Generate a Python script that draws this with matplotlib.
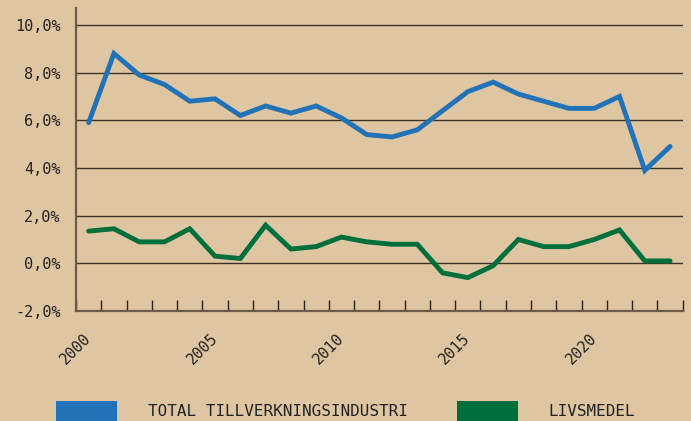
import numpy as np
import matplotlib
matplotlib.use("Agg")
import matplotlib.pyplot as plt
from matplotlib.patches import Rectangle

years = list(range(2000, 2024))
total = [5.9, 8.8, 7.9, 7.5, 6.8, 6.9, 6.2, 6.6, 6.3, 6.6, 6.1, 5.4,
         5.3, 5.6, 6.4, 7.2, 7.6, 7.1, 6.8, 6.5, 6.5, 7.0, 3.9, 4.9]
food = [1.35, 1.45, 0.9, 0.9, 1.45, 0.3, 0.2, 1.6, 0.6, 0.7, 1.1, 0.9,
        0.8, 0.8, -0.4, -0.6, -0.1, 1.0, 0.7, 0.7, 1.0, 1.4, 0.1, 0.1]
series_names = ["TOTAL TILLVERKNINGSINDUSTRI", "LIVSMEDEL"]
yticks = [-2, 0, 2, 4, 6, 8, 10]

bg = "#dfc6a2"
blue = "#2272b7"
green = "#006f3c"
font = "DejaVu Sans Mono"

fig = plt.figure(figsize=(6.91, 4.21), dpi=100, facecolor=bg)
ax = fig.add_axes([0.110, 0.2613, 0.878, 0.7197])
ax.set_facecolor(bg)

x = np.arange(len(years))
ax.plot(x, total, color=blue, lw=3.5, solid_capstyle="round", solid_joinstyle="miter", zorder=3)
ax.plot(x, food, color=green, lw=3.5, solid_capstyle="round", solid_joinstyle="miter", zorder=3)

ax.set_xlim(-0.5, len(years) - 0.5)
ax.set_ylim(-2, 10.71)

# y axis
ax.set_yticks(yticks)
ax.set_yticklabels([f"{v:.1f}%".replace(".", ",") for v in yticks],
                   fontfamily=font, fontsize=11, color="#222222")
ax.tick_params(axis="y", length=0, pad=11)
for v in yticks:
    ax.axhline(v, color="#3b3226", lw=1.0, zorder=1)

# x axis: labels every 5 years, ticks at category boundaries
major = [i for i, y in enumerate(years) if y % 5 == 0]
ax.set_xticks(major)
ax.set_xticklabels([str(years[i]) for i in major], fontfamily=font, fontsize=11,
                   color="#222222", rotation=45, ha="right", va="center",
                   rotation_mode="anchor")
ax.tick_params(axis="x", which="major", length=0, pad=18)
ax.set_xticks(np.arange(-0.5, len(years)), minor=True)
ax.tick_params(axis="x", which="minor", direction="in", length=8, width=1.0,
               color="#2a2218")

for s in ["top", "right"]:
    ax.spines[s].set_visible(False)
ax.spines["left"].set_color("#6b5b47")
ax.spines["left"].set_linewidth(1.6)
ax.spines["bottom"].set_color("#6b5b47")
ax.spines["bottom"].set_linewidth(1.6)

# legend
fig.add_artist(Rectangle((56 / 691, 0), 61 / 691, 20 / 421, transform=fig.transFigure,
                         color=blue, lw=0))
fig.text(148 / 691, 9 / 421, series_names[0], fontfamily=font, fontsize=11.5,
         color="#222222", va="center", ha="left")
fig.add_artist(Rectangle((457 / 691, 0), 61 / 691, 20 / 421, transform=fig.transFigure,
                         color=green, lw=0))
fig.text(548 / 691, 9 / 421, series_names[1], fontfamily=font, fontsize=11.5,
         color="#222222", va="center", ha="left")

fig.savefig("out.png", dpi=100, facecolor=bg)
